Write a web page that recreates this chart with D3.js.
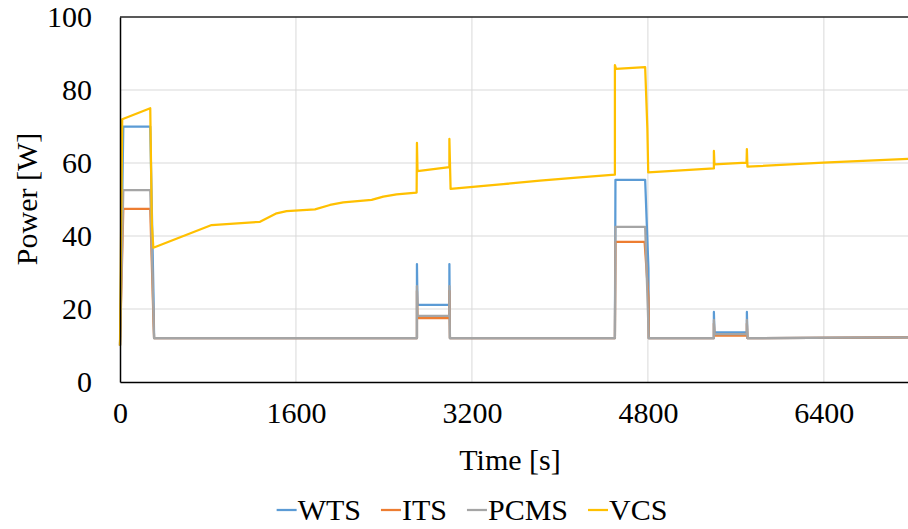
<!DOCTYPE html>
<html>
<head>
<meta charset="utf-8">
<script src="https://cdn.jsdelivr.net/npm/d3@7/dist/d3.min.js"></script>
<style>
  body { margin: 0; background: #fff; }
</style>
</head>
<body>
<svg id="chart" width="908" height="529"></svg>
<script>
// time [s] / power [W] pairs
const wtsT = [0, 30, 275, 305, 310, 2700, 2700, 2705, 2995, 2995, 3000, 4500, 4505, 4775, 4805, 4808, 5400, 5400, 5405, 5700, 5700, 5705, 7165];
const wtsP = [10, 70, 70, 23, 12, 12, 32.3, 21.1, 21.1, 32.3, 12, 12, 55.4, 55.4, 31, 12, 12, 19.2, 13.6, 13.6, 19.2, 12, 12.2];

const itsT = [0, 30, 275, 305, 310, 2700, 2700, 2705, 2995, 2995, 3000, 4500, 4505, 4770, 4805, 4808, 5400, 5400, 5405, 5700, 5700, 5705, 7165];
const itsP = [10, 47.4, 47.4, 16, 12, 12, 25, 17.5, 17.5, 25, 12, 12, 38.4, 38.4, 23, 12, 12, 16, 12.7, 12.7, 16, 12, 12.2];

const pcmsT = [0, 30, 275, 310, 2700, 2700, 2705, 2995, 2995, 3000, 4500, 4505, 4775, 4808, 5400, 5400, 5405, 5700, 5700, 5705, 7165];
const pcmsP = [10, 52.6, 52.6, 12, 12, 26.3, 18.1, 18.1, 26.3, 12, 12, 42.5, 42.5, 12, 12, 17, 13.1, 13.1, 17, 12, 12.2];

const vcsT = [0, 20, 275, 290, 303, 833, 1273, 1424, 1515, 1773, 1909, 2030, 2288, 2394, 2515, 2697, 2700, 2705, 2995, 2995, 3006, 3485, 3818, 4151, 4500, 4500, 4510, 4775, 4795, 4803, 5400, 5400, 5405, 5697, 5700, 5705, 6394, 7165];
const vcsP = [10, 72, 75, 43, 36.8, 43.0, 43.9, 46.2, 46.8, 47.3, 48.5, 49.2, 49.9, 50.8, 51.4, 51.9, 65.5, 57.8, 58.9, 66.6, 52.9, 54.2, 55.2, 56.0, 56.8, 86.8, 85.8, 86.3, 69.6, 57.4, 58.5, 63.3, 59.6, 60.1, 63.8, 59.0, 60.1, 61.1];

const seriesNames = ["WTS", "ITS", "PCMS", "VCS"];
const seriesColors = ["#5B9BD5", "#ED7D31", "#A5A5A5", "#FFC000"];
const xTicks = [0, 1600, 3200, 4800, 6400];
const yTicks = [0, 20, 40, 60, 80, 100];
const xMax = 7165;

const W = 908, H = 529;
const margin = { top: 17, right: 0, bottom: 147, left: 120 };
const TEXT_STYLE = "font-family:'Liberation Serif';font-size:30px;fill:#000";

const svg = d3.select("#chart");

const x = d3.scaleLinear().domain([0, xMax]).range([margin.left, W - margin.right]);
const y = d3.scaleLinear().domain([0, 100]).range([H - margin.bottom, margin.top]);

// grid
svg.append("g").selectAll("line")
    .data(yTicks.filter(d => d > 0 && d < 100))
    .enter().append("line")
    .attr("x1", x(0)).attr("x2", x(xMax))
    .attr("y1", d => y(d)).attr("y2", d => y(d))
    .attr("stroke", "#d9d9d9").attr("stroke-width", 1);

svg.append("g").selectAll("line")
    .data(xTicks.filter(d => d > 0))
    .enter().append("line")
    .attr("x1", d => x(d)).attr("x2", d => x(d))
    .attr("y1", y(0)).attr("y2", y(100))
    .attr("stroke", "#d9d9d9").attr("stroke-width", 1);

// series
const series = [
    { name: "WTS", t: wtsT, p: wtsP },
    { name: "ITS", t: itsT, p: itsP },
    { name: "PCMS", t: pcmsT, p: pcmsP },
    { name: "VCS", t: vcsT, p: vcsP }
];

const line = d3.line()
    .x(d => x(d[0]))
    .y(d => y(d[1]));

series.forEach((s, i) => {
    svg.append("path")
        .datum(s.t.map((t, j) => [t, s.p[j]]))
        .attr("fill", "none")
        .attr("stroke", seriesColors[i])
        .attr("stroke-width", 2.25)
        .attr("stroke-linejoin", "round")
        .attr("d", line);
});

// frame top
svg.append("line")
    .attr("x1", x(0)).attr("x2", x(xMax)).attr("y1", y(100)).attr("y2", y(100))
    .attr("stroke", "#222").attr("stroke-width", 1.3);

// axes
const yAxis = svg.append("g")
    .attr("transform", "translate(" + x(0) + ",0)")
    .call(d3.axisLeft(y).tickValues(yTicks).tickSize(0).tickPadding(28).tickFormat(d3.format("d")));
yAxis.attr("font-family", null).attr("font-size", null);
yAxis.select(".domain").attr("stroke", "#000").attr("stroke-width", 1.5);
yAxis.selectAll("text").attr("style", TEXT_STYLE).attr("dy", "0.33em");

const xAxis = svg.append("g")
    .attr("transform", "translate(0," + y(0) + ")")
    .call(d3.axisBottom(x).tickValues(xTicks).tickSize(0).tickPadding(20).tickFormat(d3.format("d")));
xAxis.attr("font-family", null).attr("font-size", null);
xAxis.select(".domain").attr("stroke", "#000").attr("stroke-width", 1.5);
xAxis.selectAll("text").attr("style", TEXT_STYLE).attr("dy", "0.71em");

// axis titles
svg.append("text")
    .attr("x", 510).attr("y", 470)
    .attr("text-anchor", "middle")
    .attr("style", TEXT_STYLE)
    .text("Time [s]");

svg.append("text")
    .attr("transform", "translate(37,199) rotate(-90)")
    .attr("text-anchor", "middle")
    .attr("style", TEXT_STYLE)
    .text("Power [W]");

// legend
const legend = svg.append("g");
let lx = 0;
seriesNames.forEach((name, i) => {
    const g = legend.append("g").attr("transform", "translate(" + lx + ",0)");
    g.append("line")
        .attr("x1", 0).attr("x2", 20)
        .attr("y1", 0).attr("y2", 0)
        .attr("stroke", seriesColors[i]).attr("stroke-width", 2.25);
    const t = g.append("text")
        .attr("x", 21).attr("y", 10)
        .attr("style", TEXT_STYLE)
        .text(name);
    lx += 21 + t.node().getComputedTextLength() + 20;
});
lx -= 20;
legend.attr("transform", "translate(" + (472 - lx / 2) + ",510)");
</script>
</body>
</html>
